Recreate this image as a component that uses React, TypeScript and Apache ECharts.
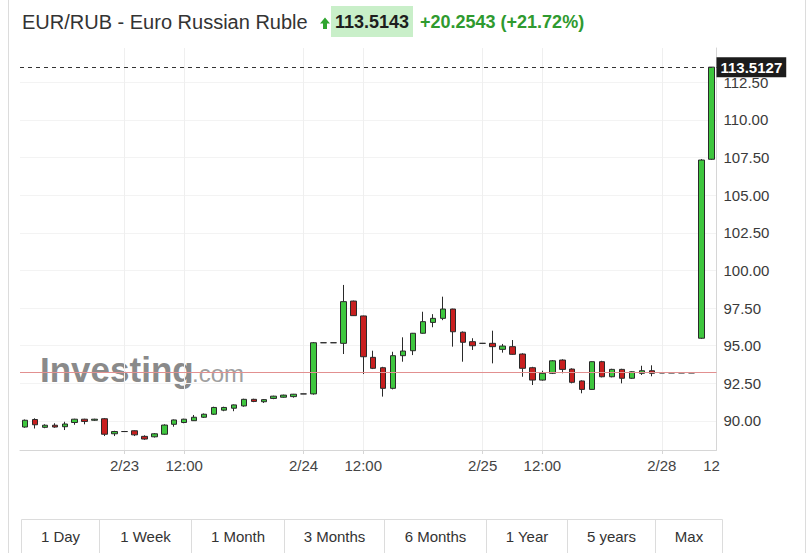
import React, { useEffect, useRef } from "react";
import * as echarts from "echarts";

// ---- data ----
const opens = [
  89.6, 90.1, 89.58, 89.72, 89.62, 89.9, 90.12, 90.05, 90.15, 89.15,
  89.3, 89.35, 88.98, 88.95, 89.12, 89.78, 89.9, 90.02, 90.25, 90.45,
  90.72, 90.85, 91.0, 91.44, 91.28, 91.5, 91.58, 91.62, 91.8, 91.8,
  95.2, 95.2, 95.16, 97.97, 96.98, 94.23, 93.54, 92.17, 94.34, 94.67,
  95.83, 96.55, 96.82, 97.44, 95.9, 95.27, 95.16, 95.16, 94.76, 94.94,
  94.45, 93.54, 92.72, 93.17, 94.05, 93.45, 92.66, 92.1, 93.94, 92.94,
  93.43, 92.84, 93.17, 93.34, 93.2, 93.2, 93.2, 93.2, 95.5, 107.39,
];
const closes = [
  90.05, 89.75, 89.72, 89.6, 89.8, 90.12, 89.97, 90.12, 89.12, 89.3,
  89.3, 89.08, 88.8, 89.15, 89.73, 90.07, 90.12, 90.25, 90.45, 90.9,
  90.9, 91.07, 91.44, 91.3, 91.42, 91.65, 91.72, 91.78, 91.8, 95.2,
  95.2, 95.2, 97.93, 97.0, 94.27, 93.5, 92.17, 94.34, 94.65, 95.83,
  96.6, 96.82, 97.44, 95.93, 95.23, 95.0, 95.16, 94.94, 94.98, 94.43,
  93.5, 92.72, 93.17, 94.0, 93.43, 92.57, 92.1, 93.94, 92.94, 93.43,
  92.84, 93.27, 93.34, 93.17, 93.2, 93.2, 93.2, 93.2, 107.34, 113.5127,
];
const lows = [
  89.55, 89.5, 89.52, 89.55, 89.4, 89.75, 89.78, 90.0, 89.0, 89.0,
  89.3, 89.0, 88.75, 88.9, 89.08, 89.62, 89.85, 90.0, 90.2, 90.4,
  90.65, 90.65, 90.95, 91.25, 91.2, 91.45, 91.55, 91.55, 91.8, 91.75,
  95.2, 95.2, 94.45, 96.98, 93.12, 93.45, 91.62, 92.1, 93.94, 94.38,
  95.8, 96.23, 96.7, 94.94, 93.94, 94.72, 95.16, 93.83, 94.54, 94.4,
  92.94, 92.39, 92.68, 93.12, 93.17, 92.5, 91.84, 92.08, 92.9, 92.9,
  92.5, 92.8, 93.06, 92.97, 93.2, 93.2, 93.2, 93.2, 95.45, 107.35,
];
const highs = [
  90.1, 90.18, 89.78, 89.85, 89.95, 90.15, 90.15, 90.15, 90.2, 89.35,
  89.3, 89.38, 89.05, 89.2, 89.78, 90.1, 90.15, 90.4, 90.5, 90.95,
  90.95, 91.1, 91.48, 91.48, 91.46, 91.68, 91.75, 91.8, 91.8, 95.25,
  95.2, 95.2, 99.04, 98.0, 97.0, 94.67, 93.6, 94.6, 95.56, 95.85,
  97.26, 97.1, 98.26, 97.46, 95.95, 95.5, 95.16, 96.0, 95.12, 95.38,
  94.5, 93.6, 93.34, 94.05, 94.1, 93.5, 92.7, 93.96, 94.0, 93.47,
  93.47, 93.3, 93.67, 93.7, 93.2, 93.2, 93.2, 93.2, 107.4, 113.52,
];
const categories = opens.map((_, i) => String(i));
const tickIndex = [10, 16, 28, 34, 46, 52, 64, 69];
const tickText = ["2/23", "12:00", "2/24", "12:00", "2/25", "12:00", "2/28", "12"];
const gridIndex = [10, 16, 28, 34, 46, 52, 64];
const yTicks = [90, 92.5, 95, 97.5, 100, 102.5, 105, 107.5, 110, 112.5];
const lastPrice = 113.5127;
const prevClose = 93.22;
const titleText = "EUR/RUB - Euro Russian Ruble";
const priceText = "113.5143";
const changeText = "+20.2543 (+21.72%)";
const rangeLabels = ["1 Day", "1 Week", "1 Month", "3 Months", "6 Months", "1 Year", "5 years", "Max"];

// ---- layout ----
const FONT = 'Arial, "Liberation Sans", sans-serif';
const rangeEdges = [21.5, 99.5, 191.5, 284.5, 384.5, 486.5, 567.5, 655.5, 722.5];

export default function App() {
  const ref = useRef<HTMLDivElement>(null);
  useEffect(() => {
    if (!ref.current) return;
    const chart = echarts.init(ref.current, undefined, { renderer: "svg" });
    const candleData = opens.map((o, i) => [o, closes[i], lows[i], highs[i]]);

    const graphics: any[] = [];
    // container borders
    graphics.push({ type: "line", shape: { x1: 8.5, y1: 0, x2: 8.5, y2: 553 }, style: { stroke: "#dcdcdc", lineWidth: 1 } });
    graphics.push({ type: "line", shape: { x1: 805.5, y1: 0, x2: 805.5, y2: 553 }, style: { stroke: "#dcdcdc", lineWidth: 1 } });
    // header
    graphics.push({ type: "text", x: 22, y: 22, style: { text: titleText, fill: "#333", fontSize: 20, fontFamily: FONT, align: "left", verticalAlign: "middle" } });
    graphics.push({ type: "polygon", shape: { points: [[325, 17.5], [330, 23.5], [327, 23.5], [327, 29], [323, 29], [323, 23.5], [320, 23.5]] }, style: { fill: "#2fa52f" } });
    graphics.push({ type: "rect", shape: { x: 331, y: 6, width: 82, height: 31 }, style: { fill: "#c9efc9" } });
    graphics.push({ type: "text", x: 372, y: 22, style: { text: priceText, fill: "#1e1e1e", fontSize: 18, fontWeight: "bold", fontFamily: FONT, align: "center", verticalAlign: "middle" } });
    graphics.push({ type: "text", x: 420, y: 22, style: { text: changeText, fill: "#2f9a2f", fontSize: 18, fontWeight: "bold", fontFamily: FONT, align: "left", verticalAlign: "middle" } });
    // watermark
    graphics.push({ type: "text", x: 40, y: 369, z: -1, style: { text: "Investing", fill: "#8a8a8a", fontSize: 35, fontWeight: "bold", fontFamily: FONT, align: "left", verticalAlign: "middle" } });
    graphics.push({ type: "text", x: 192, y: 373, z: -1, style: { text: ".com", fill: "#a0a0a0", fontSize: 24, fontFamily: FONT, align: "left", verticalAlign: "middle" } });
    // range buttons
    graphics.push({ type: "rect", shape: { x: rangeEdges[0], y: 519.5, width: rangeEdges[rangeEdges.length - 1] - rangeEdges[0], height: 40 }, style: { fill: "#fff", stroke: "#dcdcdc", lineWidth: 1 } });
    rangeLabels.forEach((lab, i) => {
      const a = rangeEdges[i];
      const b = rangeEdges[i + 1];
      if (i > 0) graphics.push({ type: "line", shape: { x1: a, y1: 519.5, x2: a, y2: 553 }, style: { stroke: "#dcdcdc", lineWidth: 1 } });
      graphics.push({ type: "text", x: (a + b) / 2, y: 536, style: { text: lab, fill: "#333", fontSize: 15, fontFamily: FONT, align: "center", verticalAlign: "middle" } });
    });

    const isTick = (idx: number) => tickIndex.indexOf(idx) >= 0;
    const isGrid = (idx: number) => gridIndex.indexOf(idx) >= 0;

    chart.setOption({
      animation: false,
      backgroundColor: "#fff",
      textStyle: { fontFamily: FONT },
      grid: { left: 20, right: 95.5, top: 48, bottom: 103, containLabel: false },
      xAxis: {
        type: "category",
        data: categories,
        boundaryGap: true,
        axisLine: { show: true, lineStyle: { color: "#d6d6d6" } },
        axisTick: { show: true, alignWithLabel: true, interval: (i: number) => isGrid(i), length: 4, lineStyle: { color: "#d6d6d6" } },
        axisLabel: {
          interval: (i: number) => isTick(i),
          formatter: (_v: string, i: number) => {
            const k = tickIndex.indexOf(i);
            return k >= 0 ? tickText[k] : "";
          },
          color: "#444",
          fontSize: 15,
          fontFamily: FONT,
          margin: 8,
        },
        splitLine: { show: true, alignWithLabel: true, interval: (i: number) => isGrid(i), lineStyle: { color: "#efefef" } },
      },
      yAxis: {
        type: "value",
        position: "right",
        min: 88.073,
        max: 114.784,
        axisLine: { show: true, lineStyle: { color: "#d6d6d6" } },
        axisTick: { show: false, customValues: yTicks },
        axisLabel: { customValues: yTicks, formatter: (v: number) => v.toFixed(2), color: "#3a3a3a", fontSize: 15, fontFamily: FONT, margin: 7 },
        splitLine: { show: true, lineStyle: { color: "#f3f3f3" } },
      },
      series: [
        {
          type: "candlestick",
          data: candleData,
          barWidth: 6,
          itemStyle: {
            color: "#3ec63e",
            color0: "#c81f1f",
            borderColor: "#2a2a2a",
            borderColor0: "#2a2a2a",
            borderWidth: 1,
          },
          markLine: {
            silent: true,
            symbol: ["none", "none"],
            animation: false,
            data: [
              {
                yAxis: lastPrice,
                lineStyle: { type: [4, 4], color: "#333", width: 1 },
                label: {
                  show: true,
                  position: "end",
                  formatter: lastPrice.toFixed(4),
                  color: "#fff",
                  backgroundColor: "#1c1c1c",
                  fontSize: 15,
                  fontWeight: "bold",
                  fontFamily: FONT,
                  padding: [3, 4, 2, 4],
                  distance: 0,
                },
              },
              {
                yAxis: prevClose,
                lineStyle: { type: "solid", color: "#e29090", width: 1 },
                label: { show: false },
              },
            ],
          },
        },
      ],
      graphic: { elements: graphics },
    });
    return () => chart.dispose();
  }, []);
  return <div ref={ref} style={{ position: "absolute", left: 0, top: 0, width: 812, height: 553 }} />;
}
